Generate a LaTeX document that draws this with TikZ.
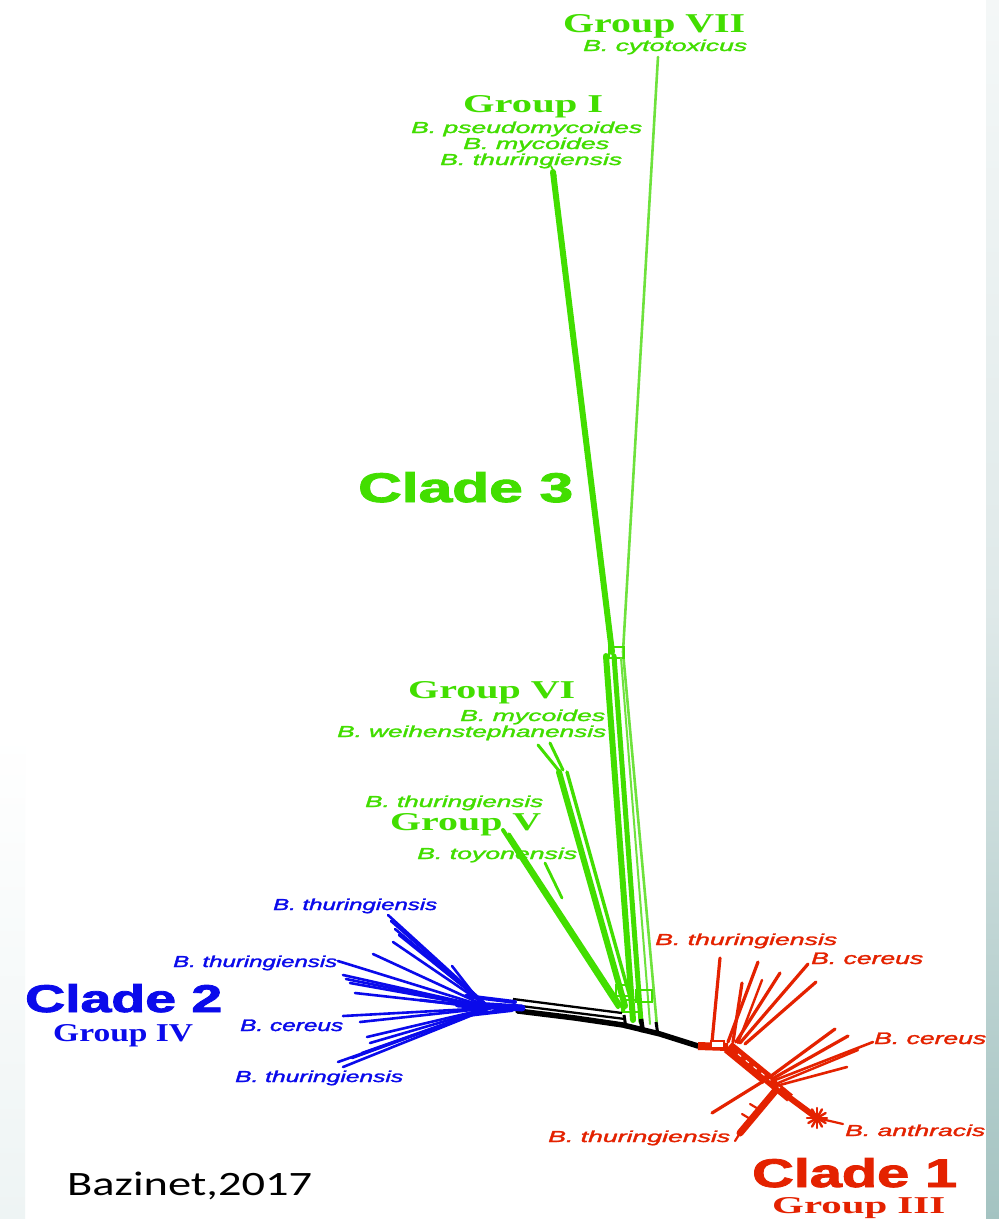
\documentclass[tikz,border=0pt]{standalone}
\usepackage{graphicx}
\usepackage{fontspec}
\newfontfamily\sanfam{Liberation Sans}[FakeBold=1.6]
\newfontfamily\cladefam{Liberation Sans}[FakeBold=2]
\newfontfamily\serfam{Liberation Serif}
\newfontfamily\calfam{Carlito}
\definecolor{gr}{RGB}{66,222,0}
\definecolor{grl}{RGB}{110,226,60}
\definecolor{bl}{RGB}{10,10,235}
\definecolor{rd}{RGB}{228,34,0}
\definecolor{rs0}{HTML}{1F6D69}
\definecolor{rs1}{HTML}{9FC0BE}
\definecolor{rs2}{HTML}{DFE9E9}
\definecolor{ls0}{HTML}{CBDDDB}
\definecolor{ls1}{HTML}{EEF4F4}
\pgfdeclareverticalshading{rstrip}{100bp}{color(0bp)=(rs0); color(23bp)=(rs1); color(50bp)=(rs2); color(88bp)=(white); color(100bp)=(white)}
\pgfdeclareverticalshading{lstrip}{100bp}{color(0bp)=(ls0); color(25bp)=(ls1); color(45bp)=(white); color(100bp)=(white)}
\newcommand\spe[3]{\resizebox{#1pt}{#2pt}{\sanfam\itshape #3}}
\newcommand\grp[3]{\resizebox{#1pt}{#2pt}{\serfam\bfseries #3}}
\newcommand\cld[3]{\resizebox{#1pt}{#2pt}{\cladefam\bfseries #3}}
\tikzset{
  lbl/.style={inner sep=0pt, anchor=base west},
  gl/.style={draw=gr, line width=#1, line cap=round},
  gl/.default=3,
  bll/.style={draw=bl, line width=#1, line cap=round},
  bll/.default=2.6,
  rl/.style={draw=rd, line width=#1, line cap=round},
  rl/.default=3.2,
  kl/.style={draw=black, line width=#1},
  kl/.default=2.3
}
\begin{document}
\begin{tikzpicture}[x=1pt,y=-1pt]
\useasboundingbox (0,0) rectangle (999,1219);
\fill[white] (0,0) rectangle (999,1219);
\fill[shading=lstrip] (0,0) rectangle (25,1219);
\fill[shading=rstrip] (986,0) rectangle (999,1219);

% ---------- coordinates ----------
\coordinate (bhub) at (490,1008);
\coordinate (kA) at (518,1011);
\coordinate (kB) at (698,1046);
\coordinate (rhub) at (728,1047);
\coordinate (rmid) at (767,1079);
\coordinate (star) at (817,1118);

% ---------- green clade ----------
% Group VII thin line
\draw[gl=2.6, draw=grl] (658,57) -- (623,652) -- (657,1026);
% Group I line
\draw[gl=6] (553,172) -- (612,652);
\draw[gl=1.6] (551,166) -- (556,176);
% junction box
\draw[gl=2] (609,647) rectangle (624,658);
% main band
\draw[gl=6] (606,656) -- (633,1020);
\draw[gl=5] (614,656) -- (641,1022);
\draw[gl=2, draw=grl] (621,658) -- (650,1024);
% Group VI band
\draw[gl=3] (538,745) -- (560,772);
\draw[gl=3] (550,743) -- (563,770);
\draw[gl=6] (559,772) -- (625,1006);
\draw[gl=3.4] (567,772) -- (633,1008);
% Group V band
\draw[gl=4] (503,830) -- (618,1007);
\draw[gl=3.4] (509,834) -- (624,1010);
\draw[gl=2.8] (545,863) -- (562,898);
% small boxes near base
\draw[gl=1.8] (616,985) rectangle (632,996);
\draw[gl=1.8] (636,990) rectangle (652,1002);
\draw[gl=1.8] (622,1000) rectangle (640,1012);

% ---------- black backbone ----------
\draw[kl=5.5, line cap=round] (kA) -- (575,1018) -- (623,1025) -- (660,1034) -- (kB);
\draw[kl] (513,999) -- (622,1013);
\draw[kl] (513,1005) -- (625,1019);
\draw[kl=3] (624,1015) -- (626,1028);
\draw[kl=4.5] (641,1019) -- (643,1032);
\draw[kl=3] (656,1022) -- (658,1035);

% ---------- blue clade ----------
\foreach \p in {(388,915),(391,921),(395,929),(399,935),(393,942),(373,954),(338,961),(343,975),(346,979),(350,983),(355,993),(343,1016),(360,1022),(367,1037),(370,1043),(338,1062),(343,1067),(352,1058),(362,1053)}
  \draw[bll] \p -- (bhub);
\draw[bll] (452,966) -- (480,1002);
\draw[bll=3] (420,1000) -- (bhub);
\draw[bll=7] (458,1004) -- (522,1008);
\draw[bll=4] (466,996) -- (515,1002);
\draw[bll=4] (468,1015) -- (512,1010);

% ---------- red clade ----------
\draw[rl=8, line cap=butt] (kB) -- (rhub);
\draw[rl] (712,1042) -- (720,958);
\draw[rl] (728,1042) -- (758,962);
\draw[rl] (733,1042) -- (742,983);
\draw[rl] (736,1042) -- (780,973);
\draw[rl] (740,1043) -- (808,964);
\draw[rl] (745,1044) -- (816,982);
\draw[rl=2.4] (738,1043) -- (762,980);
\draw[draw=rd, line width=2, fill=white] (711,1041) rectangle (724,1048);
% trunk
\draw[rl=13, line cap=butt] (rhub) -- (rmid);
\draw[rl=9, line cap=butt] (rmid) -- (790,1098);
\draw[rl=6] (790,1098) -- (star);
\draw[white, line width=1, dash pattern=on 4pt off 6pt] (738,1054) -- (780,1088);
% right branches
\draw[rl] (rmid) -- (835,1029);
\draw[rl] (772,1079) -- (848,1036);
\draw[rl=2.6] (770,1082) -- (873,1042);
\draw[rl=2.6] (776,1086) -- (847,1067);
\draw[rl=2.4] (778,1083) -- (858,1050);
% lower left
\draw[rl] (762,1082) -- (712,1113);
\draw[rl=7] (776,1090) -- (740,1133);
\draw[rl=2.2] (740,1133) -- (735,1141);
\draw[rl=2.2] (760,1110) -- (750,1104);
\draw[rl=2.2] (752,1120) -- (742,1114);
% anthracis star
\foreach \a in {0,30,...,330}
  \draw[rl=2.4] (star) -- ++(\a:10);
\draw[rl=2.2] (star) -- (843,1124);

% ---------- labels ----------
\node[lbl, text=gr] (g7) at (563,32) {\grp{182}{18}{Group VII}};
\node[lbl, text=gr] (s7) at (583,51) {\spe{164}{11.5}{B. cytotoxicus}};
\node[lbl, text=gr] (g1) at (463,112) {\grp{140}{17}{Group I}};
\node[lbl, text=gr] (s1a) at (411,133) {\spe{231}{11.5}{B. pseudomycoides}};
\node[lbl, text=gr] (s1b) at (463,149) {\spe{146}{11.5}{B. mycoides}};
\node[lbl, text=gr] (s1c) at (440,165) {\spe{182}{11.5}{B. thuringiensis}};
\node[lbl, text=gr] (c3) at (358,502) {\cld{215}{30}{Clade 3}};
\node[lbl, text=gr] (g6) at (408,698) {\grp{167}{17}{Group VI}};
\node[lbl, text=gr] (s6a) at (460,721) {\spe{145}{11.5}{B. mycoides}};
\node[lbl, text=gr] (s6b) at (337,737) {\spe{269}{11.5}{B. weihenstephanensis}};
\node[lbl, text=gr] (s5a) at (365,807) {\spe{178}{11.5}{B. thuringiensis}};
\node[lbl, text=gr] (g5) at (390,830) {\grp{151}{17}{Group V}};
\node[lbl, text=gr] (s5b) at (417,859) {\spe{160}{11.5}{B. toyonensis}};

\node[lbl, text=bl] (s4a) at (273,910) {\spe{164}{11.5}{B. thuringiensis}};
\node[lbl, text=bl] (s4b) at (173,967) {\spe{164}{11.5}{B. thuringiensis}};
\node[lbl, text=bl] (c2) at (25,1012) {\cld{197}{28}{Clade 2}};
\node[lbl, text=bl] (g4) at (53,1041) {\grp{140}{17}{Group IV}};
\node[lbl, text=bl] (s4c) at (240,1031) {\spe{103}{11.5}{B. cereus}};
\node[lbl, text=bl] (s4d) at (235,1082) {\spe{168}{11.5}{B. thuringiensis}};

\node[lbl, text=rd] (s3a) at (655,945) {\spe{182}{11.5}{B. thuringiensis}};
\node[lbl, text=rd] (s3b) at (811,964) {\spe{112}{11.5}{B. cereus}};
\node[lbl, text=rd] (s3c) at (874,1044) {\spe{112}{11.5}{B. cereus}};
\node[lbl, text=rd] (s3d) at (845,1136) {\spe{140}{11.5}{B. anthracis}};
\node[lbl, text=rd] (s3e) at (548,1142) {\spe{182}{11.5}{B. thuringiensis}};
\node[lbl, text=rd] (c1) at (752,1187) {\cld{205}{29}{Clade 1}};
\node[lbl, text=rd] (g3) at (772,1213) {\grp{173}{16}{Group III}};

\node[lbl, text=black] (cite) at (67,1195) {\resizebox{245pt}{23.5pt}{\calfam Bazinet,2017}};
\end{tikzpicture}
\end{document}
